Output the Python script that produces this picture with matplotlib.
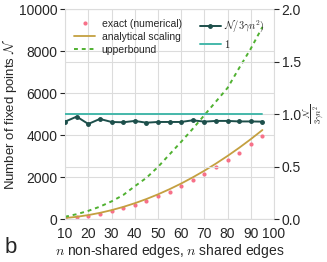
import numpy as np
import matplotlib
matplotlib.use('Agg')
import matplotlib.pyplot as plt
import seaborn as sns

# n = number of non-shared / shared edges
n = [10, 15, 20, 25, 30, 35, 40, 45, 50, 55, 60, 65, 70, 75, 80, 85, 90, 95]

# values
exact = [35, 85, 150, 245, 370, 515, 680, 850, 1075, 1305, 1570, 1865, 2140, 2485, 2815, 3170, 3560, 3950]
analytical = [47, 106, 188, 294, 423, 576, 752, 952, 1175, 1422, 1692, 1986, 2303, 2644, 3008, 3396, 3807, 4242]
upperbound = [110, 230, 390, 590, 840, 1140, 1560, 1960, 2480, 3080, 3680, 4300, 4950, 5600, 6250, 7200, 8120, 9150]
ratio = [0.928, 0.976, 0.906, 0.954, 0.925, 0.922, 0.935, 0.918, 0.925, 0.925, 0.925, 0.941, 0.928, 0.935, 0.935, 0.93, 0.93, 0.928]
one = [1.0] * len(n)

sns.set_style('whitegrid')
plt.rcParams['font.family'] = ['Liberation Sans', 'DejaVu Sans']
plt.rcParams['mathtext.fontset'] = 'cm'
plt.rcParams['grid.color'] = '#dcdcdc'
plt.rcParams['axes.edgecolor'] = '#dcdcdc'

fig = plt.figure(figsize=(3.27, 2.62), dpi=100)
ax = fig.add_axes([0.199, 0.164, 0.639, 0.801])

ax.plot(n, exact, 'o', color='#f77189', markersize=3, markeredgewidth=0, label='exact (numerical)')
ax.plot(n, analytical, '-', color='#c4a040', linewidth=1.3, label='analytical scaling')
ax.plot(n, upperbound, '--', color='#50b131', linewidth=1.4, dashes=(2, 2), label='upperbound')

ax.set_xlim(10, 100)
ax.set_ylim(0, 10000)
ax.set_xticks(np.arange(10, 101, 10))
ax.set_yticks(np.arange(0, 10001, 2000))
ax.tick_params(labelsize=10, pad=2)
ax.set_xlabel(r'$n$ non-shared edges, $n$ shared edges', fontsize=10, labelpad=1)
ax.set_ylabel(r'Number of fixed points $\mathcal{N}$', fontsize=9.5, labelpad=0)
ax.legend(loc='upper left', frameon=False, fontsize=7.5, handlelength=2.0,
          handletextpad=0.6, labelspacing=0.3, borderaxespad=0.5)

ax2 = ax.twinx()
ax2.plot(n, ratio, '-o', color='#1d4f4b', linewidth=1.4, markersize=2.5, label=r'$\mathcal{N}/3\gamma n^2)$')
ax2.plot(n, one, '-', color='#45b8aa', linewidth=1.4, label=r'$1$')
ax2.set_ylim(0, 2.0)
ax2.set_yticks(np.arange(0, 2.01, 0.5))
ax2.tick_params(labelsize=10, pad=2)
ax2.set_ylabel(r'$\frac{\mathcal{N}}{3\gamma n^2}$', fontsize=9, labelpad=0)
ax2.legend(loc='upper right', frameon=False, fontsize=7.5, handlelength=2.0,
           handletextpad=0.3, labelspacing=0.3, borderaxespad=0.5)
for s in ax2.spines.values():
    s.set_visible(False)

fig.text(0.015, 0.034, 'b', fontsize=16)

fig.savefig('out.png', dpi=100)
